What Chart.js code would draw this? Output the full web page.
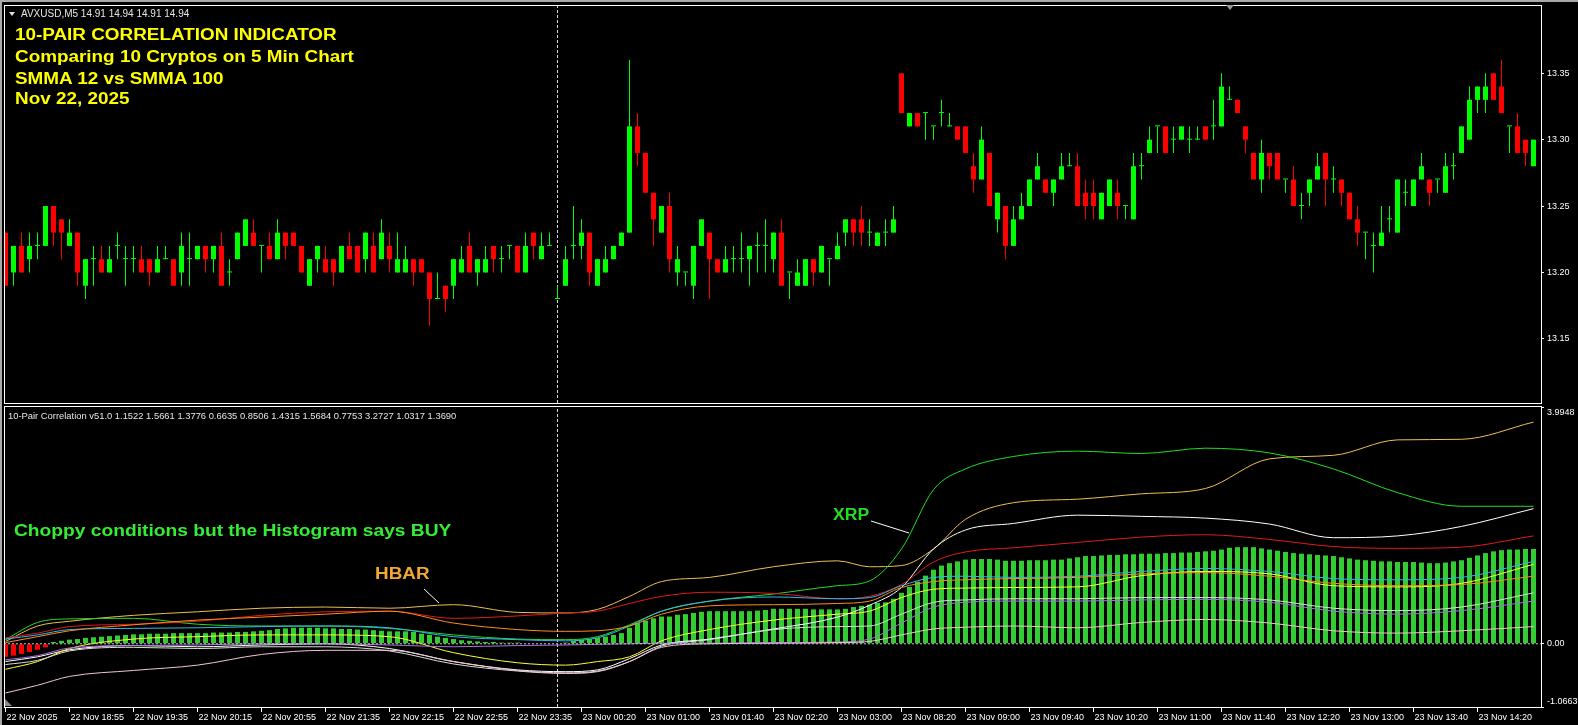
<!DOCTYPE html>
<html>
<head>
<meta charset="utf-8">
<title>AVXUSD M5 - 10-Pair Correlation</title>
<script src="https://cdn.jsdelivr.net/npm/chart.js@4.4.1/dist/chart.umd.min.js"></script>
<style>
  html, body { margin: 0; padding: 0; background: #000; }
  body { width: 1578px; height: 725px; overflow: hidden; position: relative; font-family: 'Liberation Sans', Arial, sans-serif; }
  canvas { position: absolute; left: 0; }
  #priceCanvas { top: 0; }
  #indCanvas { top: 396px; }
  .frame { position: absolute; box-sizing: border-box; border: 1px solid #fff; pointer-events: none; }
  .txt { position: absolute; white-space: nowrap; line-height: 1; }
  .big { font-weight: bold; font-size: 16px; transform: scaleX(1.18); transform-origin: 0 0; }
  .small { font-size: 9.5px; color: #e6e6e6; }
  .tri { position: absolute; width: 0; height: 0; }
</style>
</head>
<body>
<div style="position:absolute;left:0;top:0;width:1578px;height:2px;background:#a8a8a8"></div>
<div style="position:absolute;left:0;top:0;width:2px;height:725px;background:#a8a8a8"></div>

<canvas id="priceCanvas" width="1578" height="404"></canvas>
<canvas id="indCanvas" width="1578" height="329"></canvas>

<div class="frame" style="left:4px;top:5px;width:1538px;height:399px"></div>
<div class="frame" style="left:4px;top:406px;width:1538px;height:302px"></div>

<div class="tri" style="left:9px;top:12px;border-left:3px solid transparent;border-right:3px solid transparent;border-top:4px solid #e0e0e0"></div>
<div class="tri" style="left:1226px;top:5px;border-left:4px solid transparent;border-right:4px solid transparent;border-top:5px solid #9a9a9a"></div>
<div class="tri" style="left:5px;top:699px;border-right:7px solid transparent;border-bottom:7px solid #8a8a8a"></div>

<div id="symbolHeader" class="txt small" style="left:21px;top:9px;font-size:10px"></div>
<div id="titleBox"></div>
<div id="indHeader" class="txt small" style="left:8px;top:411px;font-size:9.4px"></div>

<div class="txt big" style="left:14px;top:523px;color:#33ee33;transform:scaleX(1.2)">Choppy conditions but the Histogram says BUY</div>
<div class="txt big" style="left:375px;top:566px;color:#f2a832">HBAR</div>
<div class="txt big" style="left:833px;top:507px;color:#22dd22;transform:scaleX(1.1)">XRP</div>

<svg style="position:absolute;left:0;top:0" width="1578" height="725">
  <line x1="424" y1="589" x2="439" y2="603" stroke="#ffffff" stroke-width="1"/>
  <line x1="871" y1="521" x2="909" y2="533" stroke="#ffffff" stroke-width="1"/>
</svg>

<script>
// ─── Header texts ─────────────────────────────────────────────────────────────

const SYMBOL = 'AVXUSD,M5';
const SYMBOL_QUOTE = ['14.91', '14.94', '14.91', '14.94'];
const TITLE_LINES = [
  '10-PAIR CORRELATION INDICATOR',
  'Comparing 10 Cryptos on 5 Min Chart',
  'SMMA 12 vs SMMA 100',
  'Nov 22, 2025',
];
const IND_NAME = '10-Pair Correlation v51.0';
const IND_VALUES = ['1.1522', '1.5661', '1.3776', '0.6635', '0.8506', '1.4315', '1.5684', '0.7753', '3.2727', '1.0317', '1.3690'];

// ─── Price candles (M5 bars, oldest first) ───────────────────────────────────

const OPEN = [
  13.23,13.20,13.22,13.21,13.22,13.22,13.25,13.24,13.22,13.23,13.19,13.21,13.21,13.20,13.22,13.21,
  13.21,13.21,13.21,13.20,13.21,13.21,13.20,13.21,13.21,13.22,13.21,13.22,13.20,13.21,13.22,13.23,
  13.22,13.22,13.21,13.23,13.23,13.22,13.19,13.21,13.21,13.21,13.20,13.22,13.22,13.21,13.22,13.21,
  13.22,13.20,13.20,13.21,13.21,13.20,13.18,13.19,13.19,13.20,13.22,13.20,13.20,13.22,13.21,13.22,
  13.22,13.20,13.23,13.21,13.22,13.18,13.19,13.22,13.22,13.23,13.19,13.20,13.21,13.22,13.23,13.31,
  13.29,13.26,13.23,13.25,13.20,13.20,13.19,13.22,13.23,13.21,13.20,13.21,13.21,13.21,13.22,13.22,
  13.21,13.23,13.20,13.19,13.19,13.21,13.20,13.21,13.21,13.23,13.24,13.24,13.23,13.22,13.23,13.23,
  13.35,13.31,13.32,13.32,13.31,13.32,13.31,13.31,13.31,13.28,13.27,13.29,13.24,13.25,13.22,13.24,
  13.25,13.27,13.27,13.26,13.27,13.28,13.28,13.26,13.26,13.24,13.25,13.26,13.25,13.24,13.28,13.29,
  13.31,13.31,13.30,13.30,13.30,13.30,13.31,13.31,13.31,13.33,13.33,13.31,13.29,13.27,13.29,13.29,
  13.27,13.27,13.25,13.26,13.27,13.29,13.27,13.27,13.26,13.24,13.23,13.22,13.22,13.24,13.23,13.26,
  13.25,13.27,13.27,13.27,13.26,13.28,13.29,13.30,13.33,13.33,13.35,13.34,13.31,13.31,13.30,13.28,
];
const HIGH = [
  13.23,13.22,13.23,13.23,13.23,13.25,13.25,13.24,13.24,13.23,13.21,13.22,13.22,13.22,13.23,13.22,
  13.22,13.22,13.21,13.22,13.22,13.21,13.23,13.23,13.22,13.22,13.22,13.23,13.21,13.23,13.24,13.24,
  13.22,13.23,13.24,13.23,13.23,13.22,13.21,13.22,13.22,13.21,13.22,13.23,13.22,13.23,13.23,13.24,
  13.23,13.23,13.22,13.21,13.21,13.20,13.20,13.19,13.21,13.22,13.23,13.21,13.22,13.22,13.22,13.22,
  13.22,13.23,13.23,13.23,13.23,13.19,13.22,13.25,13.24,13.23,13.21,13.22,13.22,13.23,13.36,13.32,
  13.29,13.26,13.25,13.26,13.22,13.20,13.22,13.24,13.23,13.21,13.22,13.22,13.23,13.22,13.23,13.24,
  13.23,13.24,13.20,13.21,13.21,13.21,13.22,13.21,13.23,13.24,13.24,13.25,13.24,13.23,13.24,13.25,
  13.35,13.32,13.32,13.32,13.31,13.33,13.32,13.31,13.31,13.29,13.31,13.29,13.26,13.25,13.25,13.26,
  13.27,13.29,13.27,13.27,13.29,13.29,13.29,13.27,13.27,13.26,13.27,13.27,13.25,13.29,13.29,13.31,
  13.31,13.31,13.31,13.31,13.31,13.31,13.31,13.33,13.35,13.34,13.33,13.31,13.29,13.30,13.29,13.29,
  13.27,13.28,13.26,13.27,13.29,13.29,13.28,13.27,13.26,13.25,13.23,13.23,13.25,13.25,13.27,13.27,
  13.27,13.29,13.27,13.27,13.29,13.29,13.31,13.34,13.34,13.35,13.35,13.36,13.31,13.32,13.30,13.30,
];
const LOW = [
  13.19,13.19,13.20,13.20,13.21,13.22,13.22,13.21,13.22,13.19,13.18,13.19,13.20,13.20,13.21,13.19,
  13.20,13.20,13.19,13.20,13.21,13.19,13.19,13.19,13.21,13.20,13.20,13.19,13.19,13.21,13.22,13.22,
  13.20,13.21,13.21,13.21,13.22,13.20,13.19,13.20,13.20,13.19,13.20,13.21,13.20,13.20,13.20,13.21,
  13.20,13.20,13.20,13.19,13.20,13.16,13.18,13.17,13.18,13.20,13.20,13.19,13.20,13.20,13.20,13.21,
  13.20,13.20,13.21,13.21,13.22,13.18,13.19,13.21,13.21,13.19,13.19,13.20,13.21,13.22,13.23,13.28,
  13.26,13.22,13.23,13.20,13.19,13.19,13.18,13.22,13.18,13.20,13.20,13.20,13.20,13.19,13.20,13.20,
  13.20,13.19,13.18,13.19,13.19,13.19,13.20,13.19,13.21,13.22,13.22,13.22,13.22,13.22,13.22,13.23,
  13.32,13.31,13.31,13.30,13.30,13.31,13.31,13.30,13.29,13.26,13.27,13.25,13.23,13.21,13.22,13.24,
  13.25,13.27,13.26,13.25,13.27,13.28,13.25,13.24,13.24,13.24,13.25,13.24,13.24,13.24,13.27,13.29,
  13.29,13.29,13.29,13.30,13.29,13.30,13.30,13.30,13.31,13.33,13.32,13.29,13.27,13.26,13.27,13.27,
  13.26,13.25,13.24,13.25,13.27,13.25,13.26,13.25,13.24,13.22,13.21,13.20,13.22,13.23,13.23,13.25,
  13.25,13.27,13.25,13.26,13.26,13.27,13.29,13.30,13.32,13.32,13.33,13.32,13.29,13.29,13.28,13.28,
];
const CLOSE = [
  13.19,13.22,13.20,13.22,13.22,13.25,13.23,13.23,13.23,13.20,13.21,13.21,13.20,13.21,13.22,13.21,
  13.21,13.20,13.20,13.21,13.21,13.19,13.22,13.21,13.22,13.21,13.22,13.19,13.20,13.23,13.24,13.22,
  13.22,13.21,13.23,13.22,13.22,13.20,13.21,13.22,13.20,13.20,13.22,13.21,13.20,13.23,13.20,13.23,
  13.21,13.21,13.21,13.20,13.20,13.18,13.18,13.18,13.21,13.21,13.20,13.21,13.21,13.21,13.21,13.22,
  13.20,13.22,13.22,13.22,13.22,13.18,13.21,13.22,13.23,13.20,13.21,13.21,13.22,13.23,13.31,13.29,
  13.26,13.24,13.25,13.21,13.21,13.20,13.22,13.24,13.21,13.20,13.21,13.21,13.21,13.22,13.22,13.22,
  13.23,13.19,13.20,13.20,13.21,13.20,13.22,13.21,13.22,13.24,13.23,13.23,13.23,13.23,13.23,13.24,
  13.32,13.32,13.31,13.32,13.31,13.32,13.31,13.30,13.29,13.27,13.30,13.25,13.26,13.22,13.24,13.25,
  13.27,13.28,13.26,13.27,13.28,13.28,13.25,13.25,13.25,13.26,13.27,13.25,13.25,13.28,13.28,13.30,
  13.31,13.29,13.30,13.31,13.30,13.30,13.30,13.31,13.34,13.33,13.32,13.30,13.27,13.29,13.28,13.27,
  13.27,13.25,13.25,13.27,13.28,13.27,13.27,13.26,13.24,13.23,13.23,13.22,13.23,13.24,13.27,13.26,
  13.27,13.28,13.26,13.27,13.28,13.28,13.31,13.33,13.34,13.34,13.33,13.32,13.31,13.29,13.29,13.30,
];

const PRICE_TICKS = [13.15, 13.20, 13.25, 13.30, 13.35];
const PRICE_MIN = 13.1017;
const PRICE_MAX = 13.4014;

// ─── Time axis (one label every 8 bars) ──────────────────────────────────────

const TIME_TICK_BARS = [0, 8, 16, 24, 32, 40, 48, 56, 64, 72, 80, 88, 96, 104, 112, 120, 128, 136, 144, 152, 160, 168, 176, 184];
const TIME_LABELS = [
  '22 Nov 2025', '22 Nov 18:55', '22 Nov 19:35', '22 Nov 20:15', '22 Nov 20:55', '22 Nov 21:35',
  '22 Nov 22:15', '22 Nov 22:55', '22 Nov 23:35', '23 Nov 00:20', '23 Nov 01:00', '23 Nov 01:40',
  '23 Nov 02:20', '23 Nov 03:00', '23 Nov 08:20', '23 Nov 09:00', '23 Nov 09:40', '23 Nov 10:20',
  '23 Nov 11:00', '23 Nov 11:40', '23 Nov 12:20', '23 Nov 13:00', '23 Nov 13:40', '23 Nov 14:20',
];
const DAY_SEPARATOR_BAR = 69;

// ─── Indicator: histogram (one value per bar) ────────────────────────────────

const HISTOGRAM = [
  -0.22,-0.20,-0.17,-0.14,-0.10,-0.06,0.03,0.05,0.07,0.08,0.10,0.11,0.12,0.13,0.14,0.15,
  0.16,0.16,0.17,0.17,0.17,0.18,0.18,0.18,0.18,0.18,0.19,0.19,0.19,0.20,0.20,0.21,
  0.22,0.23,0.25,0.26,0.27,0.27,0.27,0.27,0.26,0.26,0.25,0.25,0.24,0.24,0.23,0.22,
  0.21,0.21,0.21,0.20,0.17,0.15,0.12,0.10,0.08,0.06,0.05,0.04,0.03,0.03,0.02,0.02,
  0.02,0.01,0.01,0.01,0.01,0.01,0.02,0.05,0.07,0.08,0.10,0.12,0.15,0.18,0.27,0.35,
  0.39,0.43,0.46,0.46,0.49,0.50,0.52,0.54,0.55,0.55,0.55,0.55,0.55,0.55,0.56,0.57,
  0.59,0.59,0.59,0.59,0.59,0.58,0.58,0.58,0.58,0.59,0.62,0.64,0.66,0.69,0.70,0.76,
  0.86,0.96,1.05,1.15,1.25,1.32,1.36,1.39,1.42,1.43,1.43,1.43,1.42,1.40,1.40,1.40,
  1.41,1.41,1.41,1.42,1.42,1.44,1.46,1.48,1.48,1.49,1.50,1.50,1.51,1.51,1.52,1.52,
  1.52,1.53,1.53,1.54,1.54,1.55,1.56,1.57,1.59,1.62,1.63,1.63,1.63,1.61,1.59,1.57,
  1.55,1.53,1.52,1.51,1.50,1.49,1.48,1.46,1.44,1.42,1.41,1.40,1.39,1.39,1.38,1.38,
  1.38,1.37,1.36,1.36,1.37,1.39,1.41,1.45,1.49,1.53,1.56,1.58,1.59,1.59,1.60,1.60,
];

// ─── Indicator: the 10 pair lines, sampled at these bars ─────────────────────

const LINE_BARS = [0, 4, 8, 16, 24, 32, 40, 48, 56, 64, 70, 74, 78, 82, 88, 96, 104, 108, 112, 116, 120, 126, 134, 142, 150, 158, 166, 174, 182, 191];

const HBAR    = [0.04,0.30,0.38,0.48,0.54,0.60,0.62,0.60,0.66,0.53,0.52,0.58,0.80,1.05,1.12,1.30,1.40,1.30,1.32,1.60,2.10,2.38,2.44,2.53,2.62,3.12,3.18,3.44,3.45,3.74];
const XRP     = [0.07,0.36,0.42,0.43,0.33,0.30,0.30,0.26,0.15,0.08,0.07,0.12,0.32,0.55,0.72,0.84,0.98,1.06,1.60,2.60,2.95,3.16,3.25,3.21,3.30,3.22,2.95,2.55,2.32,2.32];
const WHITE_A = [-0.30,-0.22,-0.10,-0.03,-0.05,-0.02,0.00,-0.08,-0.30,-0.44,-0.47,-0.44,-0.25,-0.02,0.08,0.25,0.45,0.65,0.95,1.60,1.92,2.03,2.17,2.15,2.12,2.02,1.79,1.82,1.98,2.28];
const RED     = [0.10,0.18,0.29,0.33,0.38,0.48,0.54,0.55,0.43,0.47,0.52,0.55,0.68,0.80,0.87,0.85,0.76,0.80,1.00,1.38,1.55,1.62,1.71,1.80,1.84,1.76,1.64,1.61,1.63,1.82];
const CYAN    = [0.08,0.15,0.24,0.26,0.27,0.29,0.30,0.27,0.12,0.07,0.05,0.10,0.30,0.55,0.72,0.79,0.76,0.78,0.98,1.12,1.14,1.12,1.14,1.22,1.27,1.22,1.10,1.08,1.12,1.39];
const YELLOW  = [-0.43,-0.30,-0.08,0.08,0.12,0.15,0.15,0.12,-0.15,-0.32,-0.36,-0.30,-0.22,0.05,0.24,0.40,0.50,0.55,0.78,0.92,0.94,0.95,0.96,1.15,1.22,1.18,0.98,0.96,1.02,1.34];
const ORANGE  = [0.02,0.12,0.22,0.32,0.40,0.45,0.50,0.55,0.35,0.24,0.21,0.22,0.30,0.50,0.64,0.66,0.68,0.72,0.95,1.05,1.08,1.10,1.12,1.18,1.20,1.14,1.02,0.98,1.00,1.14];
const WHITE_B = [-0.35,-0.28,-0.12,-0.06,-0.08,-0.05,-0.05,-0.12,-0.34,-0.46,-0.50,-0.47,-0.30,-0.04,0.07,0.24,0.29,0.30,0.50,0.70,0.74,0.76,0.76,0.78,0.78,0.74,0.60,0.56,0.62,0.86];
const PURPLE  = [-0.27,-0.20,-0.07,-0.03,-0.02,0.00,0.00,-0.02,-0.05,-0.03,-0.02,-0.01,0.00,0.01,0.01,0.02,0.03,0.08,0.35,0.62,0.70,0.72,0.72,0.74,0.75,0.70,0.55,0.50,0.56,0.72];
const PINK    = [-0.83,-0.70,-0.55,-0.45,-0.36,-0.18,-0.11,-0.11,-0.30,-0.45,-0.49,-0.46,-0.30,-0.06,0.00,0.01,0.02,0.04,0.15,0.25,0.28,0.30,0.27,0.36,0.41,0.35,0.22,0.18,0.22,0.29];

const IND_MIN = -1.0663;
const IND_MAX = 3.9948;
const IND_TICKS = [-1.0663, 0, 3.9948];
const ZERO_LEVEL = 0;

// ─── Colours ──────────────────────────────────────────────────────────────────

const BULL = '#00ff00';
const BEAR = '#ff0000';
const HIST_UP = '#33cc33';
const HIST_DOWN = '#ff0000';

const IND_LINES = [
  { label: 'PINK',    values: PINK,    color: '#f2c4d2' },
  { label: 'PURPLE',  values: PURPLE,  color: '#b070e0' },
  { label: 'WHITE_B', values: WHITE_B, color: '#dcdcdc' },
  { label: 'ORANGE',  values: ORANGE,  color: '#ff8c1a' },
  { label: 'YELLOW',  values: YELLOW,  color: '#ffff33' },
  { label: 'CYAN',    values: CYAN,    color: '#36b6f0' },
  { label: 'RED',     values: RED,     color: '#e01b1b' },
  { label: 'WHITE_A', values: WHITE_A, color: '#ffffff' },
  { label: 'XRP',     values: XRP,     color: '#22dd22' },
  { label: 'HBAR',    values: HBAR,    color: '#eec050' },
];

// bar i sits at pixel 5.5 + 8*i (chart area 4..1541)
const X_MIN = -0.1875;
const X_MAX = 191.9375;

// ─── Texts ───────────────────────────────────────────────────────────────────

document.getElementById('symbolHeader').textContent = SYMBOL + '  ' + SYMBOL_QUOTE.join(' ');
document.getElementById('indHeader').textContent = IND_NAME + ' ' + IND_VALUES.join(' ');
const TITLE_TOPS = [27, 49, 71, 91];
TITLE_LINES.forEach((t, i) => {
  const d = document.createElement('div');
  d.className = 'txt big';
  d.style.cssText = `left:15px;top:${TITLE_TOPS[i]}px;color:#ffff00`;
  d.textContent = t;
  document.body.appendChild(d);
});

// ─── Charts ──────────────────────────────────────────────────────────────────

Chart.defaults.font.family = "'Liberation Sans', Arial, sans-serif";
Chart.defaults.font.size = 9;
Chart.defaults.color = '#ffffff';
Chart.defaults.animation = false;

function _fixSize(key, size) {
  return s => {
    s[key] = size;
    s.paddingTop = s.paddingBottom = s.paddingLeft = s.paddingRight = 0;
  };
}

function _baseOptions() {
  return {
    responsive: false,
    devicePixelRatio: 1,
    events: [],
    plugins: { legend: { display: false }, tooltip: { enabled: false } },
    datasets: { bar: { borderWidth: 0, borderSkipped: false, inflateAmount: 0, grouped: false, minBarLength: 1 } },
  };
}

const barIdx = OPEN.map((_, i) => i);
const candleColors = barIdx.map(i => CLOSE[i] < OPEN[i] ? BEAR : BULL);

new Chart(document.getElementById('priceCanvas'), {
  type: 'bar',
  data: {
    datasets: [
      {
        label: 'Body',
        data: barIdx.map(i => ({ x: i, y: [OPEN[i], CLOSE[i]] })),
        backgroundColor: candleColors,
        barThickness: 5,
        order: 1,
      },
      {
        label: 'Wick',
        data: barIdx.map(i => ({ x: i, y: [Math.min(LOW[i], OPEN[i], CLOSE[i]), Math.max(HIGH[i], OPEN[i], CLOSE[i])] })),
        backgroundColor: candleColors,
        barThickness: 1,
        order: 2,
      },
      {
        type: 'line',
        label: 'Day separator',
        data: [{ x: DAY_SEPARATOR_BAR, y: PRICE_MIN }, { x: DAY_SEPARATOR_BAR, y: PRICE_MAX }],
        borderColor: '#d8d8d8',
        borderWidth: 1,
        borderDash: [3, 2],
        pointRadius: 0,
        order: 3,
      },
    ],
  },
  options: {
    ..._baseOptions(),
    layout: { padding: { top: 5, bottom: 1, left: 4, right: 0 } },
    scales: {
      x: { type: 'linear', min: X_MIN, max: X_MAX, offset: false, display: false, grid: { offset: false } },
      y: {
        position: 'right',
        min: PRICE_MIN,
        max: PRICE_MAX,
        border: { display: false },
        grid: { drawOnChartArea: false, drawTicks: true, tickLength: 3, color: '#ffffff' },
        ticks: { padding: 3, color: '#ffffff', callback: v => v.toFixed(2) },
        afterBuildTicks: s => { s.ticks = PRICE_TICKS.map(v => ({ value: v })); },
        afterFit: _fixSize('width', 37),
      },
    },
  },
});

new Chart(document.getElementById('indCanvas'), {
  type: 'bar',
  data: {
    datasets: [
      {
        type: 'line',
        label: 'Zero level',
        data: [{ x: X_MIN, y: ZERO_LEVEL }, { x: X_MAX, y: ZERO_LEVEL }],
        borderColor: '#c8c8c8',
        borderWidth: 1,
        borderDash: [2, 2],
        pointRadius: 0,
        order: 0,
      },
      ...IND_LINES.map(l => ({
        type: 'line',
        label: l.label,
        data: LINE_BARS.map((x, j) => ({ x, y: l.values[j] })),
        borderColor: l.color,
        borderWidth: 1,
        pointRadius: 0,
        cubicInterpolationMode: 'monotone',
        order: 1,
      })),
      {
        label: 'Histogram',
        data: HISTOGRAM.map((v, i) => ({ x: i, y: v })),
        backgroundColor: HISTOGRAM.map(v => v < 0 ? HIST_DOWN : HIST_UP),
        barThickness: 5,
        minBarLength: 0,
        order: 5,
      },
      {
        type: 'line',
        label: 'Day separator',
        data: [{ x: DAY_SEPARATOR_BAR, y: IND_MIN }, { x: DAY_SEPARATOR_BAR, y: IND_MAX }],
        borderColor: '#d8d8d8',
        borderWidth: 1,
        borderDash: [3, 2],
        pointRadius: 0,
        order: 6,
      },
    ],
  },
  options: {
    ..._baseOptions(),
    layout: { padding: { top: 11, bottom: 0, left: 4, right: 0 } },
    scales: {
      x: {
        type: 'linear',
        min: X_MIN,
        max: X_MAX,
        offset: false,
        border: { display: false },
        grid: { offset: false, drawOnChartArea: false, drawTicks: true, tickLength: 5, color: '#ffffff' },
        ticks: {
          autoSkip: false, maxRotation: 0, minRotation: 0, align: 'start',
          padding: 0, labelOffset: 1, color: '#ffffff',
          callback: (v, i) => TIME_LABELS[i],
        },
        afterBuildTicks: s => { s.ticks = TIME_TICK_BARS.map(v => ({ value: v })); },
        afterFit: _fixSize('height', 18),
      },
      y: {
        position: 'right',
        min: IND_MIN,
        max: IND_MAX,
        border: { display: false },
        grid: { drawOnChartArea: false, drawTicks: true, tickLength: 3, color: '#ffffff' },
        ticks: {
          padding: 3, color: '#ffffff',
          // extremes are drawn inside the pane, like the terminal does
          callback: v => v === IND_MAX ? ['', v.toFixed(4)] : v === IND_MIN ? [v.toFixed(4), ''] : v.toFixed(2),
        },
        afterBuildTicks: s => { s.ticks = IND_TICKS.map(v => ({ value: v })); },
        afterFit: _fixSize('width', 37),
      },
    },
  },
});
</script>
</body>
</html>
